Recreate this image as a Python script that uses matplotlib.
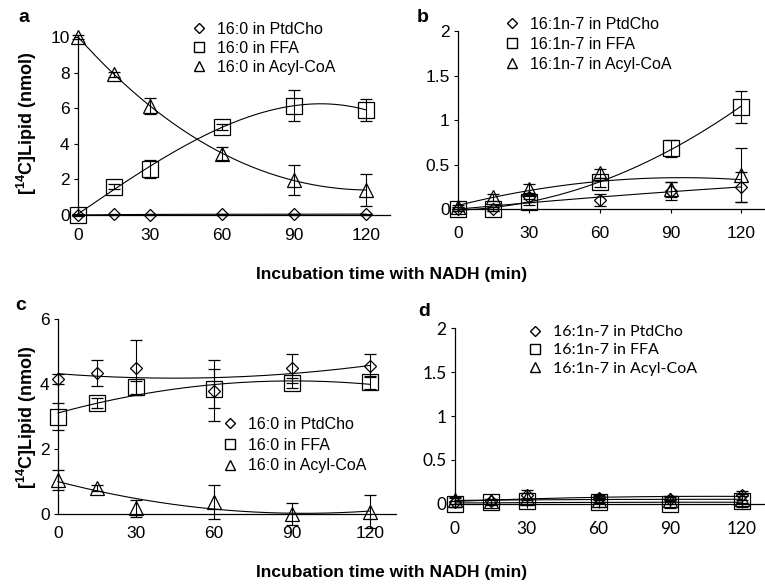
import numpy as np
import matplotlib
matplotlib.use("Agg")
import matplotlib.pyplot as plt
from matplotlib.lines import Line2D

plt.rcParams['font.family'] = ['Liberation Sans', 'DejaVu Sans']
plt.rcParams['mathtext.fontset'] = 'custom'
plt.rcParams['mathtext.rm'] = 'Liberation Sans'
plt.rcParams['mathtext.bf'] = 'Liberation Sans:bold'
plt.rcParams['mathtext.default'] = 'bf'

# === data ===
time = [0, 15, 30, 60, 90, 120]
xticks = [0, 30, 60, 90, 120]

# a: 16:0
a_pc = [0.0, 0.03, 0.02, 0.05, 0.04, 0.05]
a_pc_err = [0.02, 0.02, 0.02, 0.03, 0.03, 0.03]
a_ffa = [0.0, 1.6, 2.6, 4.95, 6.15, 5.9]
a_ffa_err = [0.05, 0.12, 0.5, 0.15, 0.85, 0.6]
a_coa = [10.0, 7.9, 6.15, 3.45, 1.95, 1.4]
a_coa_err = [0.1, 0.15, 0.45, 0.35, 0.85, 0.9]

# b: 16:1n-7
b_pc = [0.0, 0.0, 0.13, 0.1, 0.2, 0.25]
b_pc_err = [0.02, 0.02, 0.05, 0.07, 0.1, 0.17]
b_ffa = [0.0, 0.0, 0.08, 0.3, 0.68, 1.15]
b_ffa_err = [0.02, 0.02, 0.03, 0.05, 0.1, 0.18]
b_coa = [0.02, 0.13, 0.22, 0.4, 0.22, 0.38]
b_coa_err = [0.02, 0.04, 0.06, 0.05, 0.08, 0.3]

# c: 16:0
c_pc = [4.15, 4.35, 4.5, 3.8, 4.48, 4.56]
c_pc_err = [0.15, 0.4, 0.85, 0.95, 0.45, 0.35]
c_ffa = [3.0, 3.42, 3.9, 3.85, 4.02, 4.05]
c_ffa_err = [0.42, 0.15, 0.2, 0.6, 0.15, 0.2]
c_coa = [1.05, 0.8, 0.17, 0.36, 0.0, 0.07]
c_coa_err = [0.3, 0.08, 0.25, 0.52, 0.35, 0.5]

# d: 16:1n-7
d_pc = [0.02, 0.03, 0.1, 0.07, 0.06, 0.1]
d_pc_err = [0.05, 0.03, 0.06, 0.03, 0.03, 0.05]
d_ffa = [0.0, 0.02, 0.03, 0.02, 0.0, 0.03]
d_ffa_err = [0.03, 0.03, 0.04, 0.05, 0.05, 0.06]
d_coa = [0.04, 0.03, 0.07, 0.05, 0.04, 0.06]
d_coa_err = [0.04, 0.03, 0.05, 0.04, 0.04, 0.05]

labels_160 = ['16:0 in PtdCho', '16:0 in FFA', '16:0 in Acyl-CoA']
labels_161 = ['16:1n-7 in PtdCho', '16:1n-7 in FFA', '16:1n-7 in Acyl-CoA']

W, H = 765, 585
fig = plt.figure(figsize=(W / 100, H / 100), dpi=100)


def px_rect(l, t, r, b):
    return [l / W, 1 - b / H, (r - l) / W, (b - t) / H]


markers = [('D', 6.5), ('s', 12), ('^', 10.5)]
leg_markers = [('D', 4.6), ('s', 6.5), ('^', 6.5)]


def panel(rect, series, ylim, yticks, ylabels, order, xticks_len, leg_labels, leg_xy,
          font=None, spacing=0.3):
    ax = fig.add_axes(rect)
    t = np.array(time, dtype=float)
    tt = np.linspace(0, 120, 200)
    for (y, e), (m, ms), o in zip(series, markers, order):
        ax.errorbar(t, y, yerr=e, fmt=m, ms=ms, mfc='none', mec='k', mew=0.9,
                    ecolor='k', elinewidth=0.8, capsize=4, capthick=0.8, clip_on=False, zorder=3)
        # trendline (polynomial fit of the points)
        coef = np.polyfit(t, y, o)
        ax.plot(tt, np.polyval(coef, tt), color='k', lw=0.8, clip_on=False, zorder=2)
    ax.set_xlim(0, 130)
    ax.set_ylim(*ylim)
    ax.set_xticks(xticks)
    ax.set_yticks(yticks)
    ax.set_yticklabels(ylabels)
    for s in ['top', 'right']:
        ax.spines[s].set_visible(False)
    for s in ['left', 'bottom']:
        ax.spines[s].set_linewidth(0.9)
    ax.tick_params(axis='y', direction='out', length=3, width=0.8, pad=3, labelsize=12.5)
    ax.tick_params(axis='x', direction='out', length=xticks_len, width=0.8, pad=9, labelsize=12.5)
    if font:
        for lab in ax.get_xticklabels() + ax.get_yticklabels():
            lab.set_family(font)
    handles = [Line2D([], [], ls='none', marker=m, ms=ms, mfc='none', mec='k', mew=1.0)
               for m, ms in leg_markers]
    prop = {'size': 11.5}
    if font:
        prop['family'] = font
    ax.legend(handles, leg_labels, loc='upper left',
              bbox_to_anchor=(leg_xy[0] / W, 1 - leg_xy[1] / H),
              bbox_transform=fig.transFigure, frameon=False, borderpad=0,
              handlelength=1.0, handletextpad=0.65, labelspacing=spacing, prop=prop)
    return ax


panel(px_rect(78, 37, 390, 215),
      [(a_pc, a_pc_err), (a_ffa, a_ffa_err), (a_coa, a_coa_err)],
      (0, 10), [0, 2, 4, 6, 8, 10], ['0', '2', '4', '6', '8', '10'],
      [3, 3, 3], 0, labels_160, (183, 14), spacing=0.25)

panel(px_rect(458, 31, 765, 209),
      [(b_pc, b_pc_err), (b_ffa, b_ffa_err), (b_coa, b_coa_err)],
      (0, 2), [0, 0.5, 1, 1.5, 2], ['0', '0.5', '1', '1.5', '2'],
      [2, 2, 2], 3, labels_161, (496, 9), spacing=0.3)

panel(px_rect(58, 319, 396, 514),
      [(c_pc, c_pc_err), (c_ffa, c_ffa_err), (c_coa, c_coa_err)],
      (0, 6), [0, 2, 4, 6], ['0', '2', '4', '6'],
      [2, 2, 2], 0, labels_160, (214, 409), spacing=0.35)

panel(px_rect(455, 328, 766, 504),
      [(d_pc, d_pc_err), (d_ffa, d_ffa_err), (d_coa, d_coa_err)],
      (0, 2), [0, 0.5, 1, 1.5, 2], ['0', '0.5', '1', '1.5', '2'],
      [2, 2, 2], 3, labels_161, (519, 317), font='Lato', spacing=0.25)

# panel letters
for s, x, y in [('a', 18, 17), ('b', 417, 17), ('c', 15, 305), ('d', 418, 312)]:
    fig.text(x / W, 1 - y / H, s, fontsize=14, fontweight='bold', ha='left', va='center')

# shared axis labels
for y in [275, 572]:
    fig.text(392 / W, 1 - y / H, 'Incubation time with NADH (min)', fontsize=12.5,
             fontweight='bold', ha='center', va='center')
for y in [123, 417]:
    fig.text(27 / W, 1 - y / H, '[$^{14}$C]Lipid (nmol)', fontsize=13,
             fontweight='bold', rotation=90, ha='center', va='center')

fig.savefig('out.png', dpi=100)
